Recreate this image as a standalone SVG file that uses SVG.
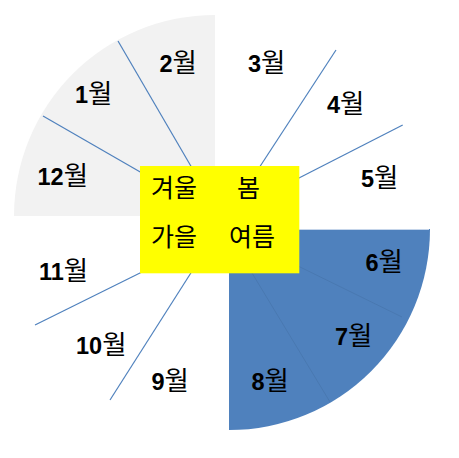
<svg xmlns="http://www.w3.org/2000/svg" width="459" height="458" viewBox="0 0 459 458">
<style>
.lbl{font-family:"Liberation Sans",Arial,sans-serif;font-weight:bold;font-size:23.5px;fill:#000}
.wol{font-family:"Noto Sans CJK KR","Noto Sans",sans-serif;font-weight:normal;font-size:26.5px}
.season{font-family:"Noto Sans CJK KR","Noto Sans",sans-serif;font-size:25px;fill:#000}
.ln{stroke:#4f81bd;stroke-width:1.2;fill:none}
.inner{stroke:#4776ad;stroke-width:0.8;fill:none}
</style>
<rect width="459" height="458" fill="#ffffff"/>
<g id="winter-sector">
<path d="M215,216 L215,15 A201,201 0 0 0 14,216 Z" fill="#f2f2f2"/>
</g>
<g id="summer-sector">
<path d="M229,229 L430,229 A201,201 0 0 1 229,430 Z" fill="#4f81bd"/>
<line x1="299" y1="229.5" x2="429" y2="229.5" stroke="#c5d5ea" stroke-width="1"/>
</g>
<g id="connectors">
<line class="ln" x1="118" y1="41" x2="192" y2="168" stroke-width="1.8"/>
<line class="ln" x1="43" y1="116" x2="142" y2="173"/>
<line class="ln" x1="336" y1="50" x2="259" y2="168"/>
<line class="ln" x1="402.7" y1="125" x2="297" y2="179"/>
<line class="ln" x1="35" y1="325" x2="142" y2="272"/>
<line class="ln" x1="110" y1="400" x2="191.5" y2="272"/>
<line class="inner" x1="298" y1="266" x2="402" y2="317"/>
<line class="inner" x1="252" y1="273" x2="330" y2="402"/>
</g>
<g id="season-box">
<rect x="140" y="166" width="159.3" height="107.3" fill="#ffff00"/>
<text class="season" x="151" y="196.5">겨울</text>
<text class="season" x="237" y="196.5">봄</text>
<text class="season" x="151" y="245.5">가을</text>
<text class="season" x="229" y="245.5">여름</text>
</g>
<g id="m1"><text class="lbl" x="75" y="103">1<tspan class="wol">월</tspan></text></g>
<g id="m2"><text class="lbl" x="159.5" y="71.5">2<tspan class="wol">월</tspan></text></g>
<g id="m3"><text class="lbl" x="248" y="71.5">3<tspan class="wol">월</tspan></text></g>
<g id="m4"><text class="lbl" x="327" y="113">4<tspan class="wol">월</tspan></text></g>
<g id="m5"><text class="lbl" x="361" y="186.5">5<tspan class="wol">월</tspan></text></g>
<g id="m6"><text class="lbl" x="365.5" y="271">6<tspan class="wol">월</tspan></text></g>
<g id="m7"><text class="lbl" x="335" y="345">7<tspan class="wol">월</tspan></text></g>
<g id="m8"><text class="lbl" x="251.5" y="389.5">8<tspan class="wol">월</tspan></text></g>
<g id="m9"><text class="lbl" x="151.5" y="389.5">9<tspan class="wol">월</tspan></text></g>
<g id="m10"><text class="lbl" x="76" y="354">10<tspan class="wol">월</tspan></text></g>
<g id="m11"><text class="lbl" x="39" y="280">11<tspan class="wol">월</tspan></text></g>
<g id="m12"><text class="lbl" x="37.5" y="185.3">12<tspan class="wol">월</tspan></text></g>
</svg>
